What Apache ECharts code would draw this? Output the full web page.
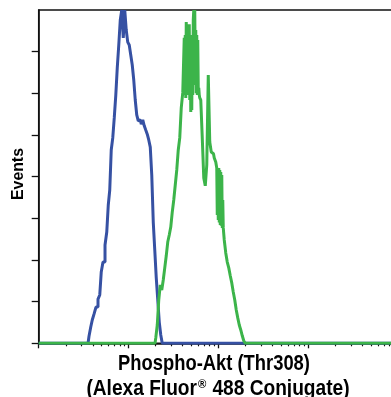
<!DOCTYPE html>
<html><head><meta charset="utf-8">
<script src="https://cdn.jsdelivr.net/npm/echarts@6/dist/echarts.min.js"></script>
<style>html,body{margin:0;padding:0;background:#fff}#c{width:391px;height:397px}</style>
</head><body><div id="c"></div>
<script>
// Fluorescence intensity (log scale) and event counts
const blueX = [1, 3.36, 3.54, 3.72, 3.87, 4.02, 4.23, 4.45, 4.69, 4.87, 5.06, 5.33, 5.61, 5.83, 6.06, 6.29, 6.54, 6.80, 7.06, 7.34, 7.63, 7.93, 8.24, 8.56, 8.90, 9.24, 9.60, 9.98, 10.37, 10.78, 11.20, 11.64, 12.09, 12.57, 13.06, 13.57, 14.11, 14.66, 15.23, 15.83, 16.45, 17.10, 17.77, 18.46, 19.19, 19.94, 20.72, 21.53, 22.38, 23.25, 24.16, 10000];
const blueY = [0, 0, 0, 17, 39, 56, 70, 87, 106, 116, 171, 195, 236, 267, 332, 368, 464, 493, 541, 594, 661, 716, 776, 800, 733, 800, 752, 723, 716, 692, 668, 632, 584, 548, 534, 536, 526, 536, 522, 512, 502, 488, 471, 404, 291, 224, 157, 104, 51, 20, 0, 0];

const greenX = [1, 19.69, 20.46, 21.26, 22.09, 22.96, 23.85, 24.79, 25.76, 26.76, 27.81, 28.91, 30.04, 31.21, 32.44, 33.71, 35.03, 36.40, 37.82, 39.30, 40.84,
  41.37, 41.90, 42.45, 42.99, 43.55, 44.11, 44.70, 45.27, 45.85, 46.44, 47.04, 47.65, 48.27, 48.89, 49.52, 50.16, 50.80, 51.46, 52.12, 52.79,
  53.48, 54.17, 54.87, 55.57, 56.28, 57.01, 57.75, 58.49, 59.25, 60.01, 60.78, 61.57, 62.36, 64.80, 67.34, 69.98, 72.72, 75.57, 78.53, 81.60,
  84.79, 88.10, 91.56, 95.15, 96.38, 97.62, 98.88, 100.2, 101.5, 102.8, 104.1, 105.4, 106.8, 108.2, 109.6, 111.0, 112.4, 113.8,
  118.3, 122.9, 127.8, 132.8, 138.0, 143.4, 149.0, 154.8, 160.9, 167.2, 173.8, 180.6, 187.7, 195.0, 202.6, 10000];
const greenY = [0, 0, 13, 44, 104, 140, 128, 152, 181, 210, 243, 260, 279, 315, 344, 380, 416, 464, 493, 565, 601,
  601, 733, 596, 740, 589, 771, 603, 764, 608, 752, 596, 766, 584, 740, 555, 716, 560, 740, 596, 776,
  800, 620, 800, 640, 752, 600, 740, 596, 728, 608, 613, 596, 589, 584, 493, 397, 378, 428, 644, 483,
  459, 455, 445, 435, 421, 308, 416, 296, 421, 290, 416, 284, 411, 282, 404, 277, 344, 277,
  248, 217, 195, 181, 162, 145, 123, 104, 80, 61, 44, 32, 18, 6, 0, 0];

const xMajorTicks = [1, 10, 100, 1000, 10000];
const xMinorTicks = [2, 3, 4, 5, 6, 7, 8, 9, 20, 30, 40, 50, 60, 70, 80, 90, 200, 300, 400, 500, 600, 700, 800, 900, 2000, 3000, 4000, 5000, 6000, 7000, 8000, 9000];
const yTicks = [0, 100, 200, 300, 400, 500, 600, 700];

const xTitle = 'Phospho-Akt (Thr308)';
const xTitle2 = '(Alexa Fluor{r|®} 488 Conjugate)';
const yTitle = 'Events';

const FONT = "'Liberation Sans',Arial,sans-serif";

const chart = echarts.init(document.getElementById('c'), null, {renderer: 'canvas'});
const blk = '#111';
chart.setOption({
  animation: false,
  backgroundColor: '#fff',
  grid: {left: 38.7, top: 10, width: 359.5, height: 333.3, outerBoundsMode: 'none', containLabel: false,
         show: true, borderColor: blk, borderWidth: 1.5, backgroundColor: 'transparent'},
  xAxis: [
    {type: 'log', logBase: 10, min: 1, max: 10000,
     axisLine: {show: true, onZero: false, lineStyle: {color: blk, width: 1.5}},
     axisTick: {show: true, length: 5, customValues: xMajorTicks, lineStyle: {color: blk, width: 1.3}},
     axisLabel: {show: false}, splitLine: {show: false}, minorTick: {show: false}},
    {type: 'log', logBase: 10, min: 1, max: 10000, position: 'bottom',
     axisLine: {show: false},
     axisTick: {show: true, length: 3, customValues: xMinorTicks, lineStyle: {color: blk, width: 1.2}},
     axisLabel: {show: false}, splitLine: {show: false}}
  ],
  yAxis: {type: 'value', min: 0, max: 800, interval: 100,
    axisLine: {show: true, lineStyle: {color: blk, width: 1.5}},
    axisTick: {show: true, length: 7, customValues: yTicks, lineStyle: {color: blk, width: 1.3}},
    axisLabel: {show: false}, splitLine: {show: false}},
  series: [
    {type: 'line', step: 'middle', symbol: 'none', xAxisIndex: 0,
     data: blueX.map((x, i) => [x, blueY[i]]),
     lineStyle: {color: '#3651a3', width: 3}, z: 3},
    {type: 'line', step: 'middle', symbol: 'none', xAxisIndex: 0,
     data: greenX.map((x, i) => [x, greenY[i]]),
     lineStyle: {color: '#3cb44a', width: 3}, z: 4}
  ],
  graphic: [
    {type: 'text', x: 214, y: 364, scaleX: 0.835,
     style: {text: xTitle, font: 'bold 22px ' + FONT, fill: '#000', align: 'center', verticalAlign: 'middle', textAlign: 'center', textVerticalAlign: 'middle'}},
    {type: 'text', x: 218, y: 388.5, scaleX: 0.87,
     style: {text: xTitle2, font: 'bold 22px ' + FONT, fill: '#000', align: 'center', verticalAlign: 'middle', textAlign: 'center', textVerticalAlign: 'middle',
       rich: {r: {font: 'bold 13px ' + FONT, fill: '#000', verticalAlign: 'top', padding: [0, 1, 0, 1]}}}},
    {type: 'text', x: 18, y: 174, rotation: Math.PI / 2, scaleX: 0.93,
     style: {text: yTitle, font: 'bold 17px ' + FONT, fill: '#000', align: 'center', verticalAlign: 'middle', textAlign: 'center', textVerticalAlign: 'middle'}}
  ]
});
</script></body></html>
